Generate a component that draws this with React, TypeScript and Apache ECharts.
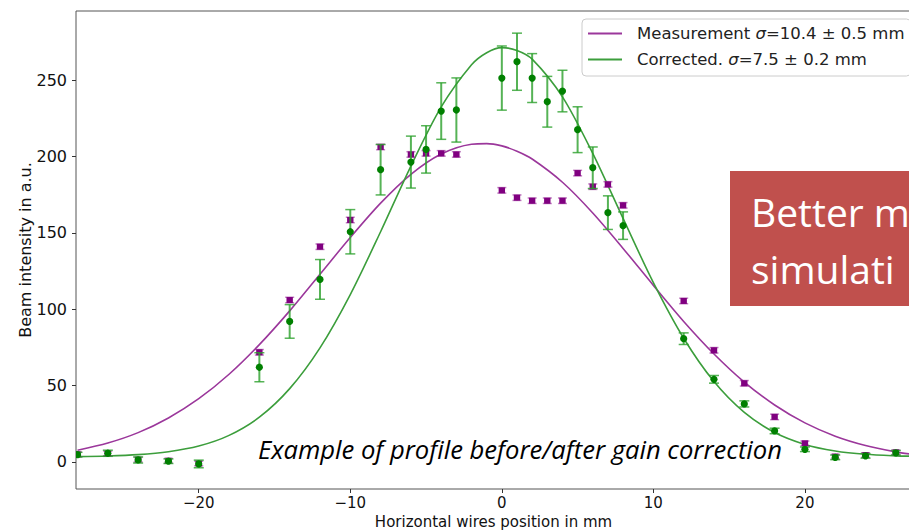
import React, { useEffect, useRef } from "react";
import * as echarts from "echarts";

// ---- Data ----
const pointX = [-28, -26, -24, -22, -20, -16, -14, -12, -10, -8, -6, -5, -4, -3, 0, 1, 2, 3, 4, 5, 6, 7, 8, 12, 14, 16, 18, 20, 22, 24, 26];
const measY = [5, 5.5, 1.5, 0.8, -1, 71.8, 106, 140.9, 158.4, 206.2, 201.3, 202, 202, 201.3, 177.8, 173, 171, 171, 171, 189.1, 180.2, 181.7, 168, 105.4, 73.1, 51.5, 29.5, 12.2, 3.5, 4.5, 6.3];
const measErr = [1.5, 1.5, 1.5, 1.5, 1.5, 1.8, 1.8, 1.8, 1.8, 1.8, 1.8, 1.8, 1.8, 1.8, 1.8, 1.8, 1.8, 1.8, 1.8, 1.8, 1.8, 1.8, 1.8, 1.8, 1.8, 1.8, 1.8, 1.5, 1.5, 1.5, 1.5];
const corrY = [4.8, 5.7, 1.3, 0.5, -1.3, 62, 92, 119.5, 150.7, 191.3, 196.3, 204.6, 229.7, 230.4, 251.3, 262, 251.3, 235.8, 242.8, 217.5, 192.6, 163.2, 154.7, 80.7, 54.1, 38, 20.3, 8.3, 3, 4, 6];
const corrErr = [1.5, 2, 2, 1.5, 2.5, 9.5, 11, 13, 14.5, 16.5, 17, 15.5, 18.5, 21, 21, 18.7, 16, 16.6, 13.6, 15, 13.6, 11, 9, 3.8, 2.5, 2, 1.8, 1.5, 1.5, 1.5, 1.5];

const fitX = [-28, -26, -24, -22, -20, -18, -16, -14, -12, -10, -8, -6, -4, -2, -1, 0, 1, 2, 4, 6, 8, 10, 12, 14, 16, 18, 20, 22, 24, 26, 27];
const measFit = [7.7, 12.4, 19.2, 28.8, 41.4, 57.4, 76.8, 98.9, 122.9, 146.9, 169.4, 188.3, 201.6, 208.0, 208.4, 206.9, 203.4, 198.3, 183.1, 163.0, 139.8, 115.6, 92.0, 70.7, 52.3, 37.3, 25.6, 16.9, 10.8, 6.6, 5.1];
const corrFit = [3.5, 3.9, 4.8, 6.7, 10.4, 17.4, 29.3, 48.0, 74.7, 109.6, 150.7, 193.7, 232.4, 260.0, 267.9, 271.2, 269.4, 263.7, 239.0, 202.0, 159.4, 117.4, 81.0, 52.6, 32.4, 19.3, 11.5, 7.2, 5.0, 4.0, 3.8];

const xTicks = [-20, -10, 0, 10, 20];
const yTicks = [0, 50, 100, 150, 200, 250];

const measName = "Measurement σ=10.4 ± 0.5 mm";
const corrName = "Corrected. σ=7.5 ± 0.2 mm";
const caption = "Example of profile before/after gain correction";
const boxLine1 = "Better m";
const boxLine2 = "simulati";

const PURPLE_LINE = "#9b379b";
const GREEN_LINE = "#3c9e3c";

function makeRender(kind: "meas" | "corr") {
  return (params: any, api: any) => {
    const x = api.value(0);
    const y = api.value(1);
    const e = api.value(2);
    const c = api.coord([x, y]);
    const t = api.coord([x, y + e]);
    const b = api.coord([x, y - e]);
    const children: any[] = [];
    if (kind === "corr") {
      const barColor = "rgba(44,160,44,0.8)";
      children.push({ type: "line", shape: { x1: c[0], y1: t[1], x2: c[0], y2: b[1] }, style: { stroke: barColor, lineWidth: 2 } });
      children.push({ type: "line", shape: { x1: c[0] - 5, y1: t[1], x2: c[0] + 5, y2: t[1] }, style: { stroke: barColor, lineWidth: 1.5 } });
      children.push({ type: "line", shape: { x1: c[0] - 5, y1: b[1], x2: c[0] + 5, y2: b[1] }, style: { stroke: barColor, lineWidth: 1.5 } });
      children.push({ type: "circle", shape: { cx: c[0], cy: c[1], r: 3.6 }, style: { fill: "#008000" } });
    } else {
      const barColor = "rgba(150,40,150,0.6)";
      children.push({ type: "line", shape: { x1: c[0], y1: t[1], x2: c[0], y2: b[1] }, style: { stroke: barColor, lineWidth: 2 } });
      children.push({ type: "line", shape: { x1: c[0] - 4.5, y1: t[1], x2: c[0] + 4.5, y2: t[1] }, style: { stroke: barColor, lineWidth: 1.5 } });
      children.push({ type: "line", shape: { x1: c[0] - 4.5, y1: b[1], x2: c[0] + 4.5, y2: b[1] }, style: { stroke: barColor, lineWidth: 1.5 } });
      children.push({ type: "rect", shape: { x: c[0] - 3.2, y: c[1] - 3, width: 6.4, height: 6 }, style: { fill: "#800080" } });
    }
    return { type: "group", children };
  };
}

export default function App() {
  const ref = useRef<HTMLDivElement>(null);
  useEffect(() => {
    if (!ref.current) return;
    const chart = echarts.init(ref.current, undefined, { renderer: "svg" });
    const font = "DejaVu Sans";
    const option: any = {
      animation: false,
      backgroundColor: "#ffffff",
      grid: {
        left: 76, top: 11, right: -2, bottom: 41,
        outerBoundsMode: "none", containLabel: false,
        show: true, borderColor: "#555", borderWidth: 1, backgroundColor: "transparent",
      },
      xAxis: {
        type: "value",
        min: -28.1,
        max: 27,
        name: "Horizontal wires position in mm",
        nameLocation: "middle",
        nameGap: 25,
        nameMoveOverlap: false,
        nameTextStyle: { fontFamily: font, fontSize: 15, lineHeight: 15, color: "#111" },
        axisLine: { show: false, onZero: false },
        axisTick: { show: true, length: 4, lineStyle: { color: "#333" }, customValues: xTicks },
        axisLabel: {
          fontFamily: font, fontSize: 15, lineHeight: 15, color: "#111", margin: 6, customValues: xTicks,
          formatter: (v: number) => (v < 0 ? "\u2212" + Math.abs(v) : String(v)),
        },
        splitLine: { show: false },
      },
      yAxis: {
        type: "value",
        min: -17.7,
        max: 295.2,
        name: "Beam intensity in a.u.",
        nameLocation: "middle",
        nameGap: 43,
        nameMoveOverlap: false,
        nameTextStyle: { fontFamily: font, fontSize: 16, color: "#111" },
        axisLine: { show: false, onZero: false },
        axisTick: { show: true, length: 4, lineStyle: { color: "#333" }, customValues: yTicks },
        axisLabel: { fontFamily: font, fontSize: 16, color: "#111", margin: 9, customValues: yTicks },
        splitLine: { show: false },
      },
      legend: {
        orient: "vertical",
        left: 582,
        top: 19,
        padding: [6, 6, 8, 6],
        itemGap: 9,
        itemWidth: 34,
        itemHeight: 2,
        backgroundColor: "rgba(255,255,255,0.85)",
        borderColor: "#cccccc",
        borderWidth: 1,
        borderRadius: 4,
        data: [
          { name: measName, icon: "rect" },
          { name: corrName, icon: "rect" },
        ],
        formatter: (name: string) => {
          const parts = name.split("σ");
          return "{n|" + parts[0] + "}{i|σ}{n|" + parts[1] + "}";
        },
        textStyle: {
          fontFamily: font,
          fontSize: 16.5,
          color: "#222",
          padding: [0, 0, 0, 10],
          rich: {
            n: { fontFamily: font, fontSize: 16.5, color: "#222", lineHeight: 18 },
            i: { fontFamily: font, fontSize: 16.5, fontStyle: "italic", color: "#222", lineHeight: 18 },
          },
        },
      },
      series: [
        {
          name: measName,
          type: "line",
          data: fitX.map((x, i) => [x, measFit[i]]),
          smooth: 0.3,
          showSymbol: false,
          symbol: "none",
          color: PURPLE_LINE,
          lineStyle: { color: PURPLE_LINE, width: 1.6 },
          z: 2,
        },
        {
          name: corrName,
          type: "line",
          data: fitX.map((x, i) => [x, corrFit[i]]),
          smooth: 0.3,
          showSymbol: false,
          symbol: "none",
          color: GREEN_LINE,
          lineStyle: { color: GREEN_LINE, width: 1.6 },
          z: 2,
        },
        {
          name: "measurement points",
          type: "custom",
          renderItem: makeRender("meas"),
          data: pointX.map((x, i) => [x, measY[i], measErr[i]]),
          encode: { x: 0, y: 1 },
          clip: true,
          z: 3,
        },
        {
          name: "corrected points",
          type: "custom",
          renderItem: makeRender("corr"),
          data: pointX.map((x, i) => [x, corrY[i], corrErr[i]]),
          encode: { x: 0, y: 1 },
          clip: true,
          z: 4,
        },
      ],
      graphic: [
        {
          type: "text",
          x: 258,
          y: 449,
          z: 10,
          style: { text: caption, fontFamily: "Open Sans", fontStyle: "italic", fontSize: 25.6, fill: "#000", verticalAlign: "middle", align: "left" },
        },
        {
          type: "rect",
          shape: { x: 730, y: 171, width: 200, height: 135 },
          style: { fill: "#c0504d" },
          z: 20,
        },
        {
          type: "text",
          x: 751,
          y: 211,
          z: 21,
          style: { text: boxLine1, fontFamily: "Open Sans", fontSize: 39, fill: "#ffffff", verticalAlign: "middle", align: "left" },
        },
        {
          type: "text",
          x: 751,
          y: 268,
          z: 21,
          style: { text: boxLine2, fontFamily: "Open Sans", fontSize: 39, fill: "#ffffff", verticalAlign: "middle", align: "left" },
        },
      ],
    };
    chart.setOption(option);
    return () => chart.dispose();
  }, []);
  return <div ref={ref} style={{ position: "fixed", left: 0, top: 0, width: 909, height: 530, overflow: "hidden" }} />;
}
